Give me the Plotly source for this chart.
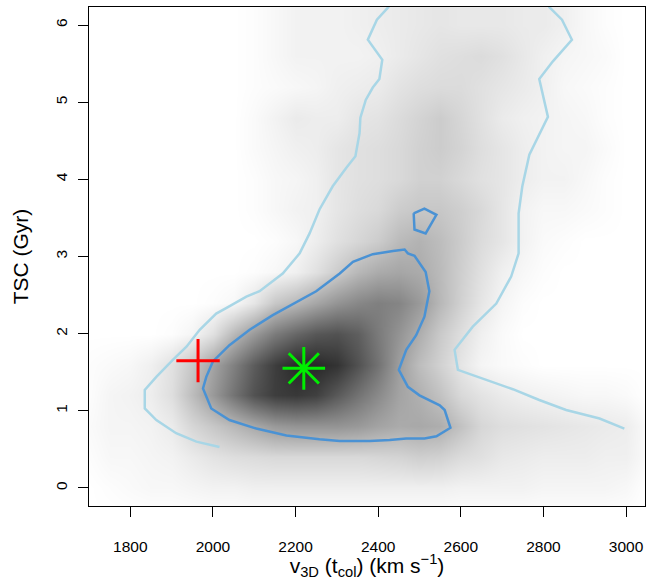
import plotly.graph_objects as go

# ---- density grid (darkness 0=white .. 1=black) ----
grid_x = [1700, 1750, 1800, 1850, 1900, 1950, 2000, 2050, 2100, 2150, 2200, 2250, 2300, 2350,
          2400, 2450, 2500, 2550, 2600, 2650, 2700, 2750, 2800, 2850, 2900, 2950, 3000, 3050]
grid_y = [-0.4, 0.0, 0.4, 0.8, 1.2, 1.6, 2.0, 2.4, 2.8, 3.2, 3.6, 4.0, 4.4, 4.8, 5.2, 5.6, 6.0, 6.4]
density = [
    [0]*28,
    [0,0.01,0.02,0.03,0.03,0.04,0.05,0.05,0.06,0.06,0.06,0.06,0.06,0.06,0.06,0.06,0.06,0.06,0.05,0.05,0.05,0.05,0.04,0.04,0.04,0.04,0.03,0],
    [0.01,0.03,0.03,0.04,0.05,0.08,0.11,0.13,0.14,0.15,0.15,0.15,0.15,0.15,0.16,0.17,0.19,0.18,0.14,0.12,0.09,0.08,0.07,0.07,0.07,0.06,0.06,0.02],
    [0.02,0.04,0.04,0.05,0.08,0.16,0.22,0.28,0.34,0.40,0.42,0.42,0.42,0.40,0.36,0.33,0.34,0.32,0.24,0.16,0.13,0.12,0.11,0.10,0.09,0.08,0.07,0.02],
    [0.01,0.04,0.05,0.07,0.13,0.26,0.40,0.55,0.68,0.76,0.78,0.75,0.65,0.55,0.46,0.36,0.31,0.24,0.15,0.11,0.08,0.06,0.05,0.04,0.03,0.03,0.02,0],
    [0.01,0.02,0.03,0.06,0.12,0.22,0.36,0.50,0.64,0.76,0.84,0.84,0.80,0.68,0.55,0.38,0.26,0.18,0.10,0.04,0.02,0.01,0,0,0,0,0,0],
    [0,0,0,0,0.01,0.04,0.12,0.28,0.40,0.52,0.60,0.66,0.68,0.63,0.52,0.42,0.32,0.21,0.13,0.06,0.02,0,0,0,0,0,0,0],
    [0,0,0,0,0,0,0.01,0.03,0.10,0.22,0.28,0.35,0.42,0.47,0.50,0.48,0.40,0.28,0.18,0.10,0.04,0.01,0,0,0,0,0,0],
    [0,0,0,0,0,0,0,0,0.01,0.03,0.06,0.12,0.20,0.28,0.33,0.35,0.33,0.27,0.19,0.12,0.06,0.03,0.01,0,0,0,0,0],
    [0,0,0,0,0,0,0,0,0,0.01,0.03,0.07,0.12,0.16,0.20,0.27,0.30,0.26,0.20,0.14,0.10,0.05,0.02,0.01,0,0,0,0],
    [0,0,0,0,0,0,0,0,0.01,0.03,0.05,0.06,0.10,0.13,0.15,0.20,0.22,0.22,0.19,0.15,0.10,0.05,0.03,0.03,0.02,0.01,0,0],
    [0,0,0,0,0,0,0,0,0.01,0.03,0.04,0.06,0.10,0.12,0.13,0.15,0.18,0.18,0.15,0.12,0.10,0.07,0.05,0.05,0.03,0.01,0,0],
    [0,0,0,0,0,0,0,0,0.02,0.04,0.06,0.07,0.10,0.12,0.13,0.15,0.18,0.20,0.17,0.13,0.10,0.07,0.05,0.04,0.04,0.02,0,0],
    [0,0,0,0,0,0,0,0,0.02,0.05,0.08,0.07,0.07,0.10,0.11,0.14,0.17,0.20,0.16,0.12,0.08,0.06,0.05,0.04,0.03,0.01,0,0],
    [0,0,0,0,0,0,0,0,0.01,0.02,0.03,0.04,0.06,0.07,0.08,0.11,0.13,0.14,0.14,0.12,0.10,0.08,0.06,0.03,0.02,0.01,0,0],
    [0,0,0,0,0,0,0,0,0.01,0.03,0.05,0.05,0.05,0.05,0.06,0.08,0.10,0.12,0.13,0.14,0.12,0.09,0.06,0.04,0.03,0.02,0,0],
    [0,0,0,0,0,0,0,0,0.01,0.03,0.05,0.05,0.05,0.06,0.07,0.08,0.09,0.10,0.09,0.09,0.09,0.08,0.08,0.06,0.03,0.01,0,0],
    [0,0,0,0,0,0,0,0,0.01,0.03,0.05,0.05,0.05,0.06,0.07,0.08,0.09,0.10,0.09,0.09,0.09,0.08,0.08,0.06,0.03,0.01,0,0],
]

# ---- outer contour (light blue), two open branches ----
outer_left_x = [2426, 2397, 2375, 2410, 2403, 2387, 2370, 2357, 2355, 2345, 2323, 2290, 2258, 2234,
                2210, 2169, 2113, 2081, 2032, 2008, 1968, 1936, 1903, 1863, 1835, 1835, 1863, 1911, 1960, 2016]
outer_left_y = [6.24, 6.07, 5.81, 5.55, 5.30, 5.19, 5.03, 4.80, 4.60, 4.30, 4.15, 3.91, 3.61, 3.30,
                3.04, 2.78, 2.55, 2.48, 2.33, 2.26, 2.05, 1.83, 1.66, 1.44, 1.27, 1.03, 0.88, 0.71, 0.60, 0.53]
outer_right_x = [2813, 2845, 2869, 2823, 2790, 2811, 2766, 2749, 2740, 2740, 2722, 2686, 2629, 2585,
                 2593, 2662, 2726, 2790, 2855, 2936, 2996]
outer_right_y = [6.24, 6.07, 5.81, 5.53, 5.30, 4.81, 4.32, 3.91, 3.56, 3.04, 2.74, 2.39, 2.09, 1.79,
                 1.53, 1.40, 1.28, 1.14, 1.01, 0.90, 0.77]

# ---- inner contour (medium blue), closed ----
inner_x = [2436, 2387, 2339, 2307, 2250, 2194, 2145, 2089, 2040, 2000, 1984, 1976, 1996, 2040, 2105,
           2178, 2258, 2307, 2379, 2428, 2468, 2512, 2541, 2575, 2561, 2549, 2500, 2472, 2450, 2468,
           2492, 2512, 2524, 2515, 2488, 2472, 2464, 2436]
inner_y = [3.07, 3.03, 2.93, 2.78, 2.55, 2.39, 2.24, 2.05, 1.85, 1.64, 1.44, 1.29, 1.03, 0.88, 0.77,
           0.68, 0.63, 0.61, 0.61, 0.62, 0.64, 0.64, 0.67, 0.78, 1.01, 1.07, 1.20, 1.31, 1.53, 1.79,
           1.98, 2.22, 2.55, 2.80, 3.01, 3.04, 3.09, 3.07]
island_x = [2486, 2512, 2541, 2515, 2488, 2486]
island_y = [3.56, 3.62, 3.54, 3.30, 3.35, 3.56]

# ---- reference points ----
red_x, red_y = [1964], [1.65]
green_x, green_y = [2220], [1.55]

x_ticks = [1800, 2000, 2200, 2400, 2600, 2800, 3000]
y_ticks = [0, 1, 2, 3, 4, 5, 6]

OUTER = "#a8d6e6"
INNER = "#4a92d4"
RED = "#ff0000"
GREEN = "#00ee00"
FONT = "Liberation Sans, Arial, Helvetica, sans-serif"

fig = go.Figure()
fig.add_trace(go.Heatmap(x=grid_x, y=grid_y, z=density, zmin=0, zmax=1,
                         colorscale=[[0, "#ffffff"], [1, "#000000"]],
                         zsmooth="best", showscale=False, hoverinfo="skip"))
fig.add_trace(go.Scatter(x=outer_left_x, y=outer_left_y, mode="lines",
                         line=dict(color=OUTER, width=2.5), showlegend=False))
fig.add_trace(go.Scatter(x=outer_right_x, y=outer_right_y, mode="lines",
                         line=dict(color=OUTER, width=2.5), showlegend=False))
fig.add_trace(go.Scatter(x=inner_x, y=inner_y, mode="lines",
                         line=dict(color=INNER, width=2.5), showlegend=False))
fig.add_trace(go.Scatter(x=island_x, y=island_y, mode="lines",
                         line=dict(color=INNER, width=2.5), showlegend=False))
fig.add_trace(go.Scatter(x=red_x, y=red_y, mode="markers",
                         marker=dict(symbol="cross-thin", size=31, color=RED,
                                     line=dict(color=RED, width=3)),
                         showlegend=False))
fig.add_trace(go.Scatter(x=green_x, y=green_y, mode="markers",
                         marker=dict(symbol="asterisk", size=35.5, color=GREEN,
                                     line=dict(color=GREEN, width=3)),
                         showlegend=False))

fig.update_layout(
    width=646, height=580,
    margin=dict(l=89, r=1, t=7, b=74),
    paper_bgcolor="white", plot_bgcolor="white",
    font=dict(family=FONT, color="black", size=15.5),
    xaxis=dict(range=[1700, 3046], tickvals=x_ticks, ticks="outside", ticklen=10,
               tickwidth=1.3, tickcolor="black", showline=True, mirror=True,
               linecolor="black", linewidth=1.3, showgrid=False, zeroline=False,
               ticklabelstandoff=16,
               title=dict(text="v<sub>3D</sub> (t<sub>col</sub>) (km s<sup>−1</sup>)",
                          font=dict(size=21), standoff=8)),
    yaxis=dict(range=[-0.234, 6.234], tickvals=y_ticks, ticks="outside", ticklen=10,
               tickwidth=1.3, tickcolor="black", showline=True, mirror=True,
               linecolor="black", linewidth=1.3, showgrid=False, zeroline=False,
               tickangle=-90, ticklabelstandoff=5,
               title=dict(text="TSC (Gyr)", font=dict(size=21), standoff=18)),
)

fig.write_html("out.html")
